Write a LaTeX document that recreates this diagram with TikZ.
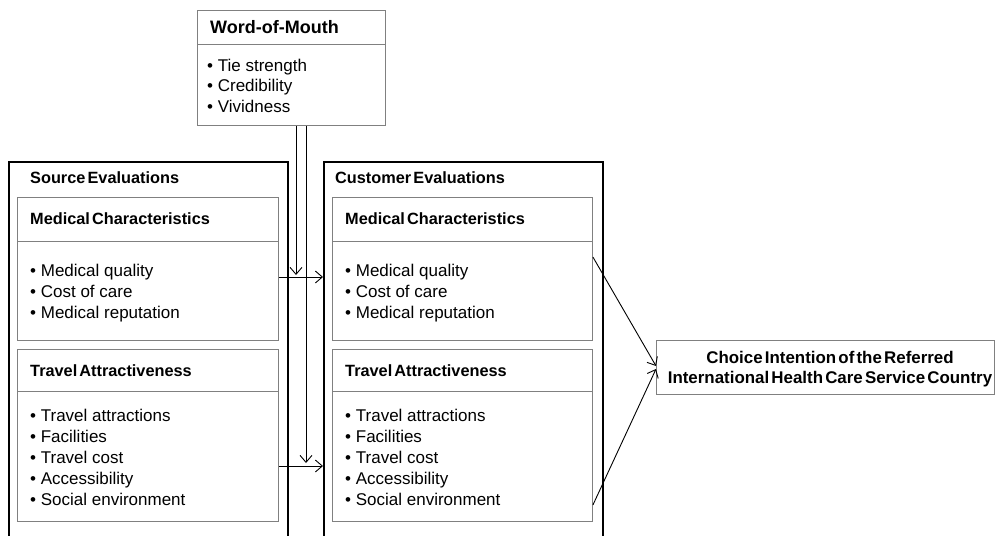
\documentclass[tikz,border=0pt]{standalone}
\usepackage{fontspec}
\setmainfont{Liberation Sans}
\usetikzlibrary{arrows.meta}
\definecolor{boxgray}{RGB}{128,128,128}
\newcommand\tightsp{\spaceskip=0.13em\relax}
\tikzset{
  outerbox/.style={draw=black, line width=1.6pt, anchor=north west, inner sep=0},
  innerbox/.style={draw=boxgray, line width=0.9pt, anchor=north west, inner sep=0},
  txt/.style={anchor=base west, inner sep=0, font=\fontsize{17}{21}\selectfont},
  ttl/.style={anchor=base west, inner sep=0, font=\fontsize{16.3}{20}\selectfont\bfseries\tightsp},
  chtxt/.style={anchor=base, inner sep=0, font=\fontsize{16.9}{20}\selectfont\bfseries\tightsp},
  arr/.style={draw=black, line width=0.9pt, -{Straight Barb[length=7pt,width=12pt,line width=0.9pt]}},
}
\begin{document}
\begin{tikzpicture}[x=1pt,y=-1pt]
\useasboundingbox (0,0) rectangle (995,535);
\clip (0,0) rectangle (995,535);
% Word-of-Mouth
\node[innerbox, minimum width=188pt, minimum height=34pt] (womH) at (197,10) {};
\node[innerbox, minimum width=188pt, minimum height=81pt] (womB) at (197,44) {};
\node[ttl, font=\fontsize{18}{21}\selectfont\bfseries] (womT) at (210,34) {Word-of-Mouth};
\node[txt] (wom1) at (207,71) {• Tie strength};
\node[txt] (wom2) at (207,91.5) {• Credibility};
\node[txt] (wom3) at (207,112) {• Vividness};
% outer boxes
\node[outerbox, minimum width=279pt, minimum height=390pt] (src) at (8,161) {};
\node[outerbox, minimum width=279pt, minimum height=390pt] (cus) at (323,161) {};
\node[ttl] (srcT) at (30,183) {Source Evaluations};
\node[ttl] (cusT) at (335,183) {Customer Evaluations};
% inner boxes left
\node[innerbox, minimum width=261pt, minimum height=44pt] (lmedH) at (17,197) {};
\node[innerbox, minimum width=261pt, minimum height=99pt] (lmedB) at (17,241) {};
\node[innerbox, minimum width=261pt, minimum height=42pt] (ltrH) at (17,349) {};
\node[innerbox, minimum width=261pt, minimum height=130pt] (ltrB) at (17,391) {};
% inner boxes middle
\node[innerbox, minimum width=260pt, minimum height=44pt] (mmedH) at (332,197) {};
\node[innerbox, minimum width=260pt, minimum height=99pt] (mmedB) at (332,241) {};
\node[innerbox, minimum width=260pt, minimum height=42pt] (mtrH) at (332,349) {};
\node[innerbox, minimum width=260pt, minimum height=130pt] (mtrB) at (332,391) {};
% texts
\foreach \x/\p in {30/l,345/m}{
  \node[ttl] (\p medT) at (\x,224) {Medical Characteristics};
  \node[ttl] (\p trT) at (\x,376) {Travel Attractiveness};
  \node[txt] (\p m1) at (\x,276) {• Medical quality};
  \node[txt] (\p m2) at (\x,297) {• Cost of care};
  \node[txt] (\p m3) at (\x,318) {• Medical reputation};
  \node[txt] (\p t1) at (\x,421) {• Travel attractions};
  \node[txt] (\p t2) at (\x,442) {• Facilities};
  \node[txt] (\p t3) at (\x,463) {• Travel cost};
  \node[txt] (\p t4) at (\x,484) {• Accessibility};
  \node[txt] (\p t5) at (\x,505) {• Social environment};
}
% choice box
\node[innerbox, minimum width=338pt, minimum height=54pt] (choice) at (656,340) {};
\node[chtxt] (ch1) at (830,363) {Choice Intention of the Referred};
\node[chtxt] (ch2) at (830,383) {International Health Care Service Country};
% connectors
\coordinate (d1) at (296,275);
\coordinate (d2) at (306,463);
\coordinate (h1) at (0,277);
\coordinate (h2) at (0,466);
\coordinate (r1) at (0,257);
\coordinate (r2) at (0,505);
\coordinate (c1) at (0,366);
\coordinate (c2) at (0,369);
\draw[arr] (womB.south -| d1) -- (d1);
\draw[arr] (womB.south -| d2) -- (d2);
\draw[arr] (lmedB.east |- h1) -- (cus.west |- h1);
\draw[arr] (ltrB.east |- h2) -- (cus.west |- h2);
\draw[arr] (mmedB.east |- r1) -- (choice.west |- c1);
\draw[arr] (mtrB.east |- r2) -- (choice.west |- c2);
\end{tikzpicture}
\end{document}
